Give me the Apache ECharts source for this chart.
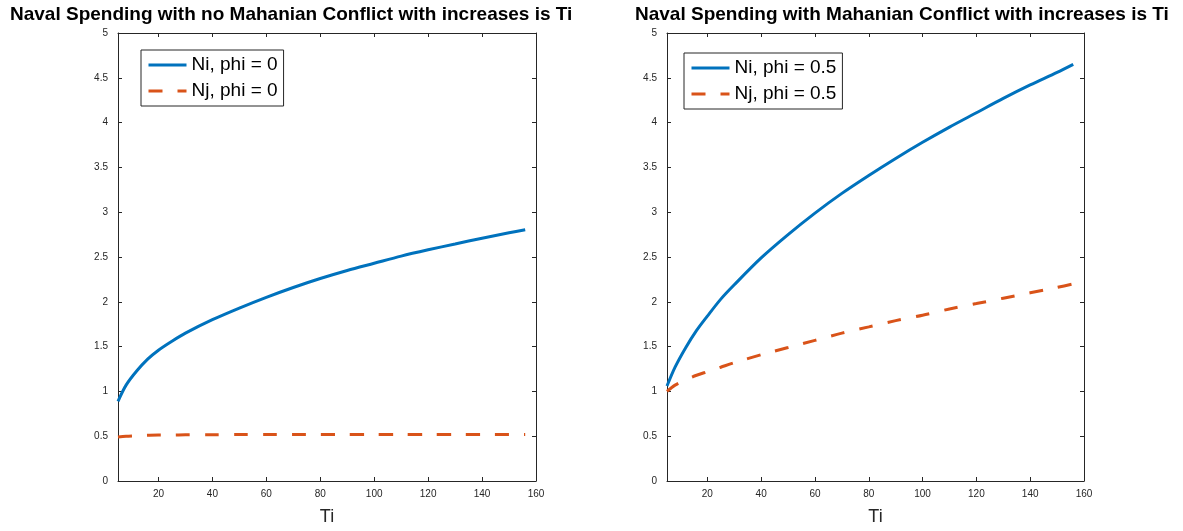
<!DOCTYPE html>
<html>
<head>
<meta charset="utf-8">
<script src="https://cdn.jsdelivr.net/npm/echarts@6/dist/echarts.min.js"></script>
<style>
  html, body { margin: 0; padding: 0; background: #fff; }
  #app { width: 1183px; height: 531px; }
</style>
</head>
<body>
<div id="app"></div>
<script>
// Ti values shared by every curve
const ti = [5, 8, 12, 16, 20, 25, 30, 40, 50, 60, 70, 80, 90, 100, 110, 120, 130, 140, 150, 156];

// left panel: phi = 0
const niPhi0 = [0.89, 1.07, 1.23, 1.36, 1.46, 1.56, 1.65, 1.80, 1.93, 2.05, 2.16, 2.26, 2.35, 2.43, 2.51, 2.58, 2.645, 2.71, 2.77, 2.805];
const njPhi0 = [0.49, 0.50, 0.505, 0.51, 0.512, 0.513, 0.515, 0.517, 0.518, 0.518, 0.519, 0.519, 0.52, 0.52, 0.52, 0.52, 0.52, 0.52, 0.52, 0.52];

// right panel: phi = 0.5
const niPhi05 = [1.06, 1.27, 1.49, 1.68, 1.84, 2.03, 2.19, 2.49, 2.75, 2.99, 3.21, 3.41, 3.60, 3.78, 3.95, 4.11, 4.27, 4.42, 4.56, 4.65];
const njPhi05 = [1.00, 1.07, 1.13, 1.18, 1.22, 1.27, 1.32, 1.41, 1.49, 1.57, 1.65, 1.72, 1.79, 1.85, 1.92, 1.98, 2.04, 2.10, 2.16, 2.20];

const xTicks = [20, 40, 60, 80, 100, 120, 140, 160];
const titles = [
  "Naval Spending with no Mahanian Conflict with increases is Ti",
  "Naval Spending with Mahanian Conflict with increases is Ti"
];
const seriesNames = [
  ["Ni, phi = 0", "Nj, phi = 0"],
  ["Ni, phi = 0.5", "Nj, phi = 0.5"]
];

const FONT = "'Liberation Sans', Arial, Helvetica, sans-serif";
const AXIS = "#262626";
const BLUE = "#0072BD";
const ORANGE = "#D95319";

const pairs = (ys) => ti.map((t, i) => [t, ys[i]]);

function xAxisFor(grid, top) {
  return {
    type: "value",
    gridIndex: grid,
    position: top ? "top" : "bottom",
    min: 5,
    max: 160,
    name: top ? "" : "Ti",
    nameLocation: "middle",
    nameGap: 27,
    nameTextStyle: { fontFamily: FONT, fontSize: 18, color: AXIS },
    axisLine: { show: true, onZero: false, lineStyle: { color: AXIS, width: 1 } },
    axisTick: { show: true, inside: true, length: 4, customValues: xTicks, lineStyle: { color: AXIS } },
    axisLabel: { show: !top, customValues: xTicks, margin: 8, fontFamily: FONT, fontSize: 10, color: AXIS },
    splitLine: { show: false }
  };
}

function yAxisFor(grid, right) {
  return {
    type: "value",
    gridIndex: grid,
    position: right ? "right" : "left",
    min: 0,
    max: 5,
    interval: 0.5,
    axisLine: { show: true, onZero: false, lineStyle: { color: AXIS, width: 1 } },
    axisTick: { show: true, inside: true, length: 4, lineStyle: { color: AXIS } },
    axisLabel: { show: !right, margin: 10, fontFamily: FONT, fontSize: 10, color: AXIS },
    splitLine: { show: false }
  };
}

function lineSeries(name, grid, ys, color, dashed) {
  return {
    name,
    type: "line",
    xAxisIndex: grid * 2,
    yAxisIndex: grid * 2,
    data: pairs(ys),
    symbol: "none",
    smooth: 0.3,
    animation: false,
    lineStyle: { color, width: 3, type: dashed ? [14, 15] : "solid", cap: "butt" },
    itemStyle: { color }
  };
}

function legendFor(names, left, top) {
  return {
    data: names,
    left,
    top,
    orient: "vertical",
    itemWidth: 38,
    itemHeight: 14,
    itemGap: 6,
    padding: [5, 6, 5, 6],
    borderColor: AXIS,
    borderWidth: 1,
    backgroundColor: "#fff",
    selectedMode: false,
    itemStyle: { opacity: 0 },
    lineStyle: { width: 3 },
    textStyle: { fontFamily: FONT, fontSize: 19, color: "#000", lineHeight: 20 }
  };
}

const chart = echarts.init(document.getElementById("app"));
chart.setOption({
  backgroundColor: "#fff",
  animation: false,
  title: [
    { text: titles[0], left: 10, top: 5, padding: 0, textStyle: { fontFamily: FONT, fontSize: 19, fontWeight: "bold", color: "#000" } },
    { text: titles[1], left: 635, top: 5, padding: 0, textStyle: { fontFamily: FONT, fontSize: 19, fontWeight: "bold", color: "#000" } }
  ],
  legend: [
    legendFor(seriesNames[0], 141, 50),
    legendFor(seriesNames[1], 684, 53)
  ],
  grid: [
    { left: 118, top: 33, width: 418, height: 450 },
    { left: 667, top: 33, width: 417, height: 450 }
  ],
  xAxis: [xAxisFor(0, false), xAxisFor(0, true), xAxisFor(1, false), xAxisFor(1, true)],
  yAxis: [yAxisFor(0, false), yAxisFor(0, true), yAxisFor(1, false), yAxisFor(1, true)],
  series: [
    lineSeries(seriesNames[0][0], 0, niPhi0, BLUE, false),
    lineSeries(seriesNames[0][1], 0, njPhi0, ORANGE, true),
    lineSeries(seriesNames[1][0], 1, niPhi05, BLUE, false),
    lineSeries(seriesNames[1][1], 1, njPhi05, ORANGE, true)
  ]
});

window.onresize = function() {
  chart.resize();
};
</script>
</body>
</html>
